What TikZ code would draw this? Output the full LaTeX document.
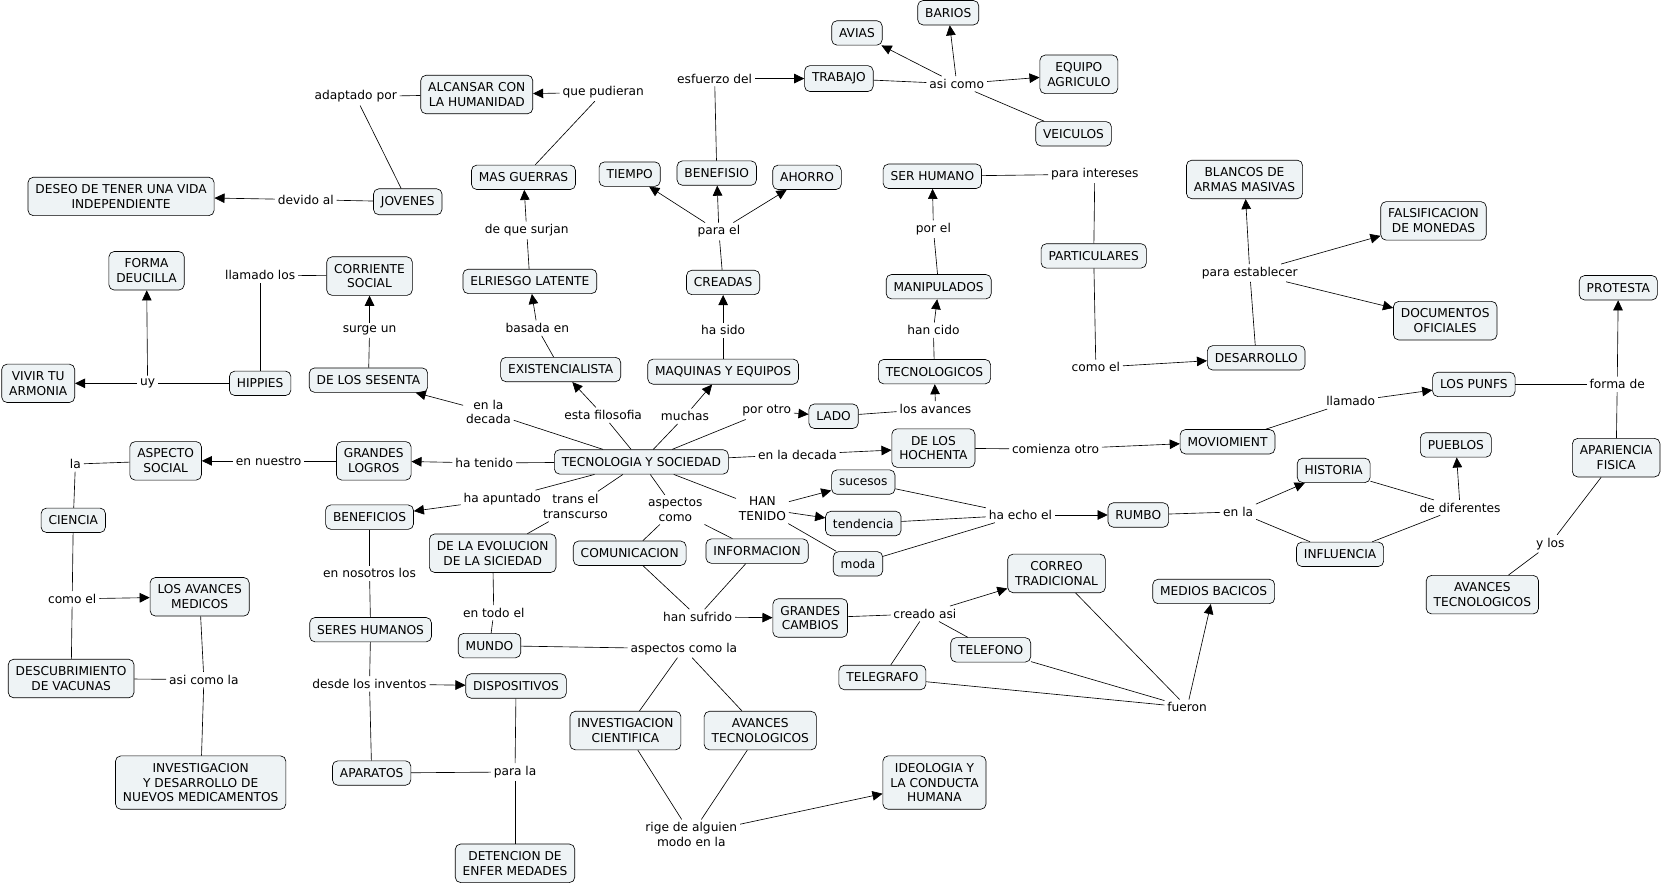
\documentclass[tikz,border=0pt]{standalone}
\usepackage{fontspec}
\setmainfont{DejaVu Sans}
\usetikzlibrary{arrows.meta}
\definecolor{cmapfill}{RGB}{238,243,245}
\begin{document}
\begin{tikzpicture}[x=1pt,y=-1pt,line width=0.6pt,>={Triangle[length=9.5pt,width=9pt]},
  concept/.style={draw,fill=cmapfill,rounded corners=5pt,align=center,inner xsep=7pt,inner ysep=6.8pt,minimum height=23pt,font=\fontsize{11.5}{14}\selectfont},
  phrase/.style={inner sep=2.5pt,align=center,font=\fontsize{11.5}{14}\selectfont}]
\useasboundingbox (0,0) rectangle (1568,835);
\node[concept] (bar) at (893,12) {BARIOS};
\node[concept] (avi) at (807,31) {AVIAS};
\node[concept] (trab) at (790,74) {TRABAJO};
\node[concept] (equ) at (1016,70) {EQUIPO\\AGRICULO};
\node[concept] (vei) at (1011,126) {VEICULOS};
\node[concept] (alc) at (449,89) {ALCANSAR CON\\LA HUMANIDAD};
\node[concept] (mgu) at (493,167) {MAS GUERRAS};
\node[concept] (tie) at (593,164) {TIEMPO};
\node[concept] (benf) at (675,163) {BENEFISIO};
\node[concept] (aho) at (760,167) {AHORRO};
\node[concept] (serh) at (878,166) {SER HUMANO};
\node[concept] (bla) at (1172,169) {BLANCOS DE\\ARMAS MASIVAS};
\node[concept] (fal) at (1350,208) {FALSIFICACION\\DE MONEDAS};
\node[concept] (dvi) at (114,185) {DESEO DE TENER UNA VIDA\\INDEPENDIENTE};
\node[concept] (jov) at (384,190) {JOVENES};
\node[concept] (fdc) at (138,255) {FORMA\\DEUCILLA};
\node[concept] (cso) at (348,260) {CORRIENTE\\SOCIAL};
\node[concept] (rie) at (499,265) {ELRIESGO LATENTE};
\node[concept] (cre) at (681,266) {CREADAS};
\node[concept] (man) at (884,270) {MANIPULADOS};
\node[concept] (par) at (1030,241) {PARTICULARES};
\node[concept] (pro) at (1524,271) {PROTESTA};
\node[concept] (doc) at (1361,302) {DOCUMENTOS\\OFICIALES};
\node[concept] (dsr) at (1183,337) {DESARROLLO};
\node[concept] (viv) at (36,361) {VIVIR TU\\ARMONIA};
\node[concept] (hip) at (245,361) {HIPPIES};
\node[concept] (ses) at (347,358) {DE LOS SESENTA};
\node[concept] (exi) at (528,348) {EXISTENCIALISTA};
\node[concept] (maq) at (681,350) {MAQUINAS Y EQUIPOS};
\node[concept] (tec) at (880,350) {TECNOLOGICOS};
\node[concept] (lad) at (785,392) {LADO};
\node[concept] (pun) at (1388,362) {LOS PUNFS};
\node[concept] (tys) at (604,435) {TECNOLOGIA Y SOCIEDAD};
\node[concept] (glo) at (352,434) {GRANDES\\LOGROS};
\node[concept] (asp) at (156,434) {ASPECTO\\SOCIAL};
\node[concept] (hoc) at (879,422) {DE LOS\\HOCHENTA};
\node[concept] (mov) at (1156,416) {MOVIOMIENT};
\node[concept] (apf) at (1522,431) {APARIENCIA\\FISICA};
\node[concept] (pue) at (1371,419) {PUEBLOS};
\node[concept] (his) at (1256,443) {HISTORIA};
\node[concept] (suc) at (813,454) {sucesos};
\node[concept] (ten) at (813,493) {tendencia};
\node[concept] (mod) at (808,531) {moda};
\node[concept] (rum) at (1072,485) {RUMBO};
\node[concept] (inf) at (1262,522) {INFLUENCIA};
\node[concept] (bnf) at (348,487) {BENEFICIOS};
\node[concept] (evo) at (464,521) {DE LA EVOLUCION\\DE LA SICIEDAD};
\node[concept] (com) at (593,521) {COMUNICACION};
\node[concept] (ifo) at (713,519) {INFORMACION};
\node[concept] (cie) at (69,490) {CIENCIA};
\node[concept] (crr) at (995,540) {CORREO\\TRADICIONAL};
\node[concept] (mba) at (1143,557) {MEDIOS BACICOS};
\node[concept] (avr) at (1396,560) {AVANCES\\TECNOLOGICOS};
\node[concept] (ame) at (188,562) {LOS AVANCES\\MEDICOS};
\node[concept] (gca) at (763,582) {GRANDES\\CAMBIOS};
\node[concept] (seh) at (349,593) {SERES HUMANOS};
\node[concept] (mun) at (461,608) {MUNDO};
\node[concept] (tlf) at (933,612) {TELEFONO};
\node[concept] (tlg) at (831,638) {TELEGRAFO};
\node[concept] (vac) at (67,639) {DESCUBRIMIENTO\\DE VACUNAS};
\node[concept] (dis) at (486,646) {DISPOSITIVOS};
\node[concept] (icf) at (589,688) {INVESTIGACION\\CIENTIFICA};
\node[concept] (avm) at (716,688) {AVANCES\\TECNOLOGICOS};
\node[concept] (ide) at (880,737) {IDEOLOGIA Y\\LA CONDUCTA\\HUMANA};
\node[concept] (idm) at (189,737) {INVESTIGACION\\Y DESARROLLO DE\\NUEVOS MEDICAMENTOS};
\node[concept] (apr) at (350,728) {APARATOS};
\node[concept] (det) at (485,813) {DETENCION DE\\ENFER MEDADES};
\node[phrase] (lasi) at (901,79) {asi como};
\node[phrase] (lesf) at (673,74) {esfuerzo del};
\node[phrase] (lque) at (568,87) {que pudieran};
\node[phrase] (lada) at (335,91) {adaptado por};
\node[phrase] (ldev) at (288,188) {devido al};
\node[phrase] (lpin) at (1031,164) {para intereses};
\node[phrase] (lpel) at (677,218) {para el};
\node[phrase] (lsur) at (496,217) {de que surjan};
\node[phrase] (lpor) at (879,216) {por el};
\node[phrase] (lllo) at (245,259) {llamado los};
\node[phrase] (lest) at (1177,257) {para establecer};
\node[phrase] (lsun) at (348,311) {surge un};
\node[phrase] (lbas) at (506,309) {basada en};
\node[phrase] (lsid) at (681,311) {ha sido};
\node[phrase] (lcid) at (879,311) {han cido};
\node[phrase] (lcom) at (1032,346) {como el};
\node[phrase] (luy) at (139,361) {uy};
\node[phrase] (lfor) at (1523,362) {forma de};
\node[phrase] (llam) at (1272,378) {llamado};
\node[phrase] (ldec) at (460,388) {en la\\decada};
\node[phrase] (lfil) at (568,391) {esta filosofia};
\node[phrase] (lmuc) at (645,392) {muchas};
\node[phrase] (lotr) at (722,387) {por otro};
\node[phrase] (lava) at (881,385) {los avances};
\node[phrase] (lla) at (71,437) {la};
\node[phrase] (lnue) at (253,434) {en nuestro};
\node[phrase] (lten) at (456,436) {ha tenido};
\node[phrase] (ldeh) at (751,428) {en la decada};
\node[phrase] (lcmz) at (994,423) {comienza otro};
\node[phrase] (lapu) at (473,470) {ha apuntado};
\node[phrase] (ltra) at (542,477) {trans el\\transcurso};
\node[phrase] (lasp) at (636,480) {aspectos\\como};
\node[phrase] (lhan) at (718,479) {HAN\\TENIDO};
\node[phrase] (lech) at (961,485) {ha echo el};
\node[phrase] (lenl) at (1166,482) {en la};
\node[phrase] (ldif) at (1375,478) {de diferentes};
\node[phrase] (lylo) at (1460,512) {y los};
\node[phrase] (lnos) at (348,540) {en nosotros los};
\node[phrase] (lcel) at (68,564) {como el};
\node[phrase] (lsuf) at (657,581) {han sufrido};
\node[phrase] (lcre) at (871,578) {creado asi};
\node[phrase] (ltod) at (465,577) {en todo el};
\node[phrase] (lacm) at (644,611) {aspectos como la};
\node[phrase] (lacl) at (192,640) {asi como la};
\node[phrase] (linv) at (348,644) {desde los inventos};
\node[phrase] (lfue) at (1118,666) {fueron};
\node[phrase] (lpla) at (485,727) {para la};
\node[phrase] (lrig) at (651,786) {rige de alguien\\modo en la};
\draw (trab) -- (lasi);
\draw[->] (lasi) -- (avi);
\draw[->] (lasi) -- (bar);
\draw[->] (lasi) -- (equ);
\draw (lasi) -- (vei);
\draw (benf) -- (lesf);
\draw[->] (lesf) -- (trab);
\draw (mgu) -- (lque);
\draw[->] (lque) -- (alc);
\draw (jov) -- (lada);
\draw (lada) -- (alc);
\draw (jov) -- (ldev);
\draw[->] (ldev) -- (dvi);
\draw (rie) -- (lsur);
\draw[->] (lsur) -- (mgu);
\draw (cre) -- (lpel);
\draw[->] (lpel) -- (tie);
\draw[->] (lpel) -- (benf);
\draw[->] (lpel) -- (aho);
\draw (man) -- (lpor);
\draw[->] (lpor) -- (serh);
\draw (serh) -- (lpin);
\draw (lpin) -- (par);
\draw (par) -- (lcom);
\draw[->] (lcom) -- (dsr);
\draw (dsr) -- (lest);
\draw[->] (lest) -- (bla);
\draw[->] (lest) -- (fal);
\draw[->] (lest) -- (doc);
\draw (hip) -- (lllo);
\draw (lllo) -- (cso);
\draw (hip) -- (luy);
\draw[->] (luy) -- (viv);
\draw[->] (luy) -- (fdc);
\draw (ses) -- (lsun);
\draw[->] (lsun) -- (cso);
\draw (exi) -- (lbas);
\draw[->] (lbas) -- (rie);
\draw (maq) -- (lsid);
\draw[->] (lsid) -- (cre);
\draw (tec) -- (lcid);
\draw[->] (lcid) -- (man);
\draw (lad) -- (lava);
\draw[->] (lava) -- (tec);
\draw (tys) -- (ldec);
\draw[->] (ldec) -- (ses);
\draw (tys) -- (lfil);
\draw[->] (lfil) -- (exi);
\draw (tys) -- (lmuc);
\draw[->] (lmuc) -- (maq);
\draw (tys) -- (lotr);
\draw[->] (lotr) -- (lad);
\draw (tys) -- (lten);
\draw[->] (lten) -- (glo);
\draw (glo) -- (lnue);
\draw[->] (lnue) -- (asp);
\draw (asp) -- (lla);
\draw (lla) -- (cie);
\draw (cie) -- (lcel);
\draw[->] (lcel) -- (ame);
\draw (lcel) -- (vac);
\draw (vac) -- (lacl);
\draw (ame) -- (lacl);
\draw (lacl) -- (idm);
\draw (tys) -- (ldeh);
\draw[->] (ldeh) -- (hoc);
\draw (hoc) -- (lcmz);
\draw[->] (lcmz) -- (mov);
\draw (mov) -- (llam);
\draw[->] (llam) -- (pun);
\draw (pun) -- (lfor);
\draw[->] (lfor) -- (pro);
\draw (lfor) -- (apf);
\draw (apf) -- (lylo);
\draw (lylo) -- (avr);
\draw (tys) -- (lapu);
\draw[->] (lapu) -- (bnf);
\draw (bnf) -- (lnos);
\draw (lnos) -- (seh);
\draw (seh) -- (linv);
\draw[->] (linv) -- (dis);
\draw (linv) -- (apr);
\draw (apr) -- (lpla);
\draw (dis) -- (lpla);
\draw (lpla) -- (det);
\draw (tys) -- (ltra);
\draw (ltra) -- (evo);
\draw (evo) -- (ltod);
\draw (ltod) -- (mun);
\draw (mun) -- (lacm);
\draw (lacm) -- (icf);
\draw (lacm) -- (avm);
\draw (icf) -- (lrig);
\draw (avm) -- (lrig);
\draw[->] (lrig) -- (ide);
\draw (tys) -- (lasp);
\draw (lasp) -- (com);
\draw (lasp) -- (ifo);
\draw (com) -- (lsuf);
\draw (ifo) -- (lsuf);
\draw[->] (lsuf) -- (gca);
\draw (gca) -- (lcre);
\draw[->] (lcre) -- (crr);
\draw (lcre) -- (tlf);
\draw (lcre) -- (tlg);
\draw (tlg) -- (lfue);
\draw (tlf) -- (lfue);
\draw (crr) -- (lfue);
\draw[->] (lfue) -- (mba);
\draw (tys) -- (lhan);
\draw[->] (lhan) -- (suc);
\draw[->] (lhan) -- (ten);
\draw (lhan) -- (mod);
\draw (suc) -- (lech);
\draw (ten) -- (lech);
\draw (mod) -- (lech);
\draw[->] (lech) -- (rum);
\draw (rum) -- (lenl);
\draw[->] (lenl) -- (his);
\draw (lenl) -- (inf);
\draw (his) -- (ldif);
\draw (inf) -- (ldif);
\draw[->] (ldif) -- (pue);
\end{tikzpicture}
\end{document}
